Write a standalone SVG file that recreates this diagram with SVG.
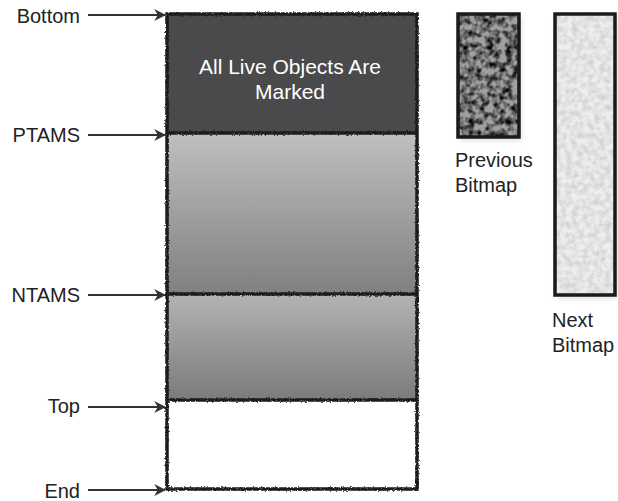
<svg xmlns="http://www.w3.org/2000/svg" width="618" height="501" viewBox="0 0 618 501">
<style>
.lbl{font-family:"Liberation Sans",Arial,sans-serif;font-size:20px;fill:#222}
.in{font-family:"Liberation Sans",Arial,sans-serif;font-size:21px;fill:#fff;text-anchor:middle}
.arr{stroke:#333;stroke-width:2;fill:none;marker-end:url(#ah)}
.edge{fill:none;stroke:#1a1a1a;stroke-width:3.5;filter:url(#rough)}
.bm{stroke:#1a1a1a;stroke-width:3.5}
</style>
<defs>
<marker id="ah" viewBox="0 0 10 10" refX="9" refY="5" markerWidth="6" markerHeight="6" orient="auto" markerUnits="strokeWidth">
<path d="M0,0 L10,5 L0,10 L3,5 z" fill="#333"/>
</marker>
<linearGradient id="g1" x1="0" y1="0" x2="0" y2="1">
<stop offset="0" stop-color="#bfbfc1"/><stop offset="1" stop-color="#808082"/>
</linearGradient>
<linearGradient id="g2" x1="0" y1="0" x2="0" y2="1">
<stop offset="0" stop-color="#b3b3b5"/><stop offset="1" stop-color="#7b7b7d"/>
</linearGradient>
<filter id="rough" x="-5%" y="-5%" width="110%" height="110%">
<feTurbulence type="fractalNoise" baseFrequency="0.6" numOctaves="2" seed="3" result="n"/>
<feDisplacementMap in="SourceGraphic" in2="n" scale="3" xChannelSelector="R" yChannelSelector="G"/>
</filter>
<filter id="noiseDark" x="0" y="0" width="100%" height="100%">
<feTurbulence type="fractalNoise" baseFrequency="0.16" numOctaves="2" seed="7"/>
<feColorMatrix type="matrix" values="0 0 0 0 0  0 0 0 0 0  0 0 0 0 0  0 0 0 -2.2 1.4"/>
<feGaussianBlur stdDeviation="0.7"/>
<feComposite in2="SourceGraphic" operator="in"/>
</filter>
<filter id="noiseLight" x="0" y="0" width="100%" height="100%">
<feTurbulence type="fractalNoise" baseFrequency="0.18" numOctaves="2" seed="11"/>
<feColorMatrix type="matrix" values="0 0 0 0 0  0 0 0 0 0  0 0 0 0 0  0 0 0 -0.25 0.17"/>
<feGaussianBlur stdDeviation="0.5"/>
<feComposite in2="SourceGraphic" operator="in"/>
</filter>
<filter id="shadow" x="-20%" y="-10%" width="140%" height="120%">
<feGaussianBlur stdDeviation="3"/>
</filter>
</defs>

<g id="heap">
<rect x="167" y="14" width="250" height="119" fill="#4a4a4c"/>
<rect x="167" y="133" width="250" height="161" fill="url(#g1)"/>
<rect x="167" y="294" width="250" height="106" fill="url(#g2)"/>
<rect x="167" y="400" width="250" height="89" fill="#fff"/>
<rect class="edge" x="167" y="14" width="250" height="475"/>
<path class="edge" d="M167,133 H417 M167,294 H417 M167,400 H417"/>
<text class="in" x="290" y="74">All Live Objects Are</text>
<text class="in" x="290" y="99">Marked</text>
</g>

<g id="prev-bitmap">
<rect x="460" y="17" width="61" height="123" fill="#000" opacity="0.15" filter="url(#shadow)"/>
<rect x="458" y="14" width="61" height="123" fill="#a0a0a0"/>
<rect x="458" y="14" width="61" height="123" fill="#fff" filter="url(#noiseDark)"/>
<rect class="bm" x="458" y="14" width="61" height="123" fill="none"/>
<text class="lbl" x="455" y="167">Previous</text>
<text class="lbl" x="455" y="192">Bitmap</text>
</g>

<g id="next-bitmap">
<rect x="557" y="17" width="60" height="281" fill="#000" opacity="0.15" filter="url(#shadow)"/>
<rect x="555" y="14" width="60" height="281" fill="#eeeeee"/>
<rect x="555" y="14" width="60" height="281" fill="#fff" filter="url(#noiseLight)"/>
<rect class="bm" x="555" y="14" width="60" height="281" fill="none"/>
<text class="lbl" x="552" y="327">Next</text>
<text class="lbl" x="552" y="352">Bitmap</text>
</g>

<g id="labels">
<text class="lbl" x="80" y="23" text-anchor="end">Bottom</text>
<text class="lbl" x="80" y="142" text-anchor="end">PTAMS</text>
<text class="lbl" x="80" y="302" text-anchor="end">NTAMS</text>
<text class="lbl" x="80" y="413" text-anchor="end">Top</text>
<text class="lbl" x="80" y="498" text-anchor="end">End</text>
</g>

<g id="connectors">
<line class="arr" x1="88" y1="15" x2="165" y2="15"/>
<line class="arr" x1="88" y1="135" x2="165" y2="135"/>
<line class="arr" x1="88" y1="295" x2="165" y2="295"/>
<line class="arr" x1="88" y1="407" x2="165" y2="407"/>
<line class="arr" x1="88" y1="490" x2="165" y2="490"/>
</g>
</svg>
